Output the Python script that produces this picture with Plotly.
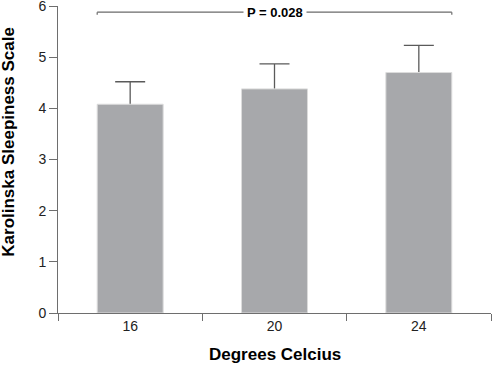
import plotly.graph_objects as go

categories = ["16", "20", "24"]
means = [4.08, 4.38, 4.70]
upper = [4.52, 4.87, 5.23]
y_ticks = [0, 1, 2, 3, 4, 5, 6]
p_label = "P = 0.028"
x_title = "Degrees Celcius"
y_title = "Karolinska Sleepiness Scale"
BRACKET_Y = 5.88

BAR_W = 0.457
err_plus = [u - m for u, m in zip(upper, means)]

FONT = "Liberation Sans, Arial, sans-serif"
AX = "#6e6e6e"

fig = go.Figure()
# error bars (lower half hidden by the opaque bars drawn above)
fig.add_trace(go.Bar(
    x=categories, y=means, width=BAR_W,
    marker=dict(color="rgba(0,0,0,0)", line=dict(width=0)),
    error_y=dict(type="data", symmetric=True, array=err_plus,
                 color="#5a5a5a", thickness=1.3, width=15),
    showlegend=False, hoverinfo="skip",
))
fig.add_trace(go.Bar(
    x=categories, y=means, width=BAR_W,
    marker=dict(color="#a7a8ab", line=dict(color="#dcdcdc", width=1)),
    showlegend=False, hoverinfo="skip",
))

x0 = 0 - BAR_W / 2
x1 = (len(categories) - 1) + BAR_W / 2
lc = dict(color="#6a6a6a", width=1.2)
fig.add_shape(type="line", xref="x", yref="y", x0=x0, x1=x1, y0=BRACKET_Y, y1=BRACKET_Y, line=lc)
fig.add_shape(type="line", xref="x", yref="y", x0=x0, x1=x0, y0=BRACKET_Y, y1=BRACKET_Y - 0.05, line=lc)
fig.add_shape(type="line", xref="x", yref="y", x0=x1, x1=x1, y0=BRACKET_Y, y1=BRACKET_Y - 0.05, line=lc)
fig.add_annotation(x=(len(categories) - 1) / 2, y=BRACKET_Y, xref="x", yref="y",
                   text="<b>" + p_label + "</b>", showarrow=False,
                   bgcolor="white", borderpad=3,
                   font=dict(family=FONT, size=13, color="black"))

# axis titles
fig.add_annotation(x=0.5, y=-0.1336, xref="paper", yref="paper",
                   xanchor="center", yanchor="middle", showarrow=False,
                   text="<b>" + x_title + "</b>",
                   font=dict(family=FONT, size=17, color="black"))
fig.add_annotation(x=-0.115, y=0.5586, xref="paper", yref="paper",
                   xanchor="center", yanchor="middle", showarrow=False,
                   textangle=-90, text="<b>" + y_title + "</b>",
                   font=dict(family=FONT, size=17, color="black"))

fig.update_layout(
    width=492, height=365, barmode="overlay",
    margin=dict(l=58, r=1, t=6, b=52),
    paper_bgcolor="white", plot_bgcolor="white",
    font=dict(family=FONT, size=13, color="#222"),
)
fig.update_xaxes(
    type="category", range=[-0.5, 2.5], tickson="boundaries",
    ticks="outside", ticklen=7, tickcolor=AX, tickwidth=1,
    showline=True, linecolor=AX, linewidth=1, showgrid=False,
    automargin=False, ticklabeloverflow="allow",
    tickfont=dict(family=FONT, size=14, color="#222"),
)
fig.update_yaxes(
    range=[0, 6], tickvals=y_ticks, ticks="outside", ticklen=8,
    tickcolor=AX, tickwidth=1, showline=True, linecolor=AX, linewidth=1,
    showgrid=False, zeroline=False, automargin=False,
    ticklabeloverflow="allow",
    tickfont=dict(family=FONT, size=14, color="#222"),
)
fig.write_html("out.html", config={"displayModeBar": False},
               post_script="document.body.style.margin='0';document.body.style.padding='0';")
